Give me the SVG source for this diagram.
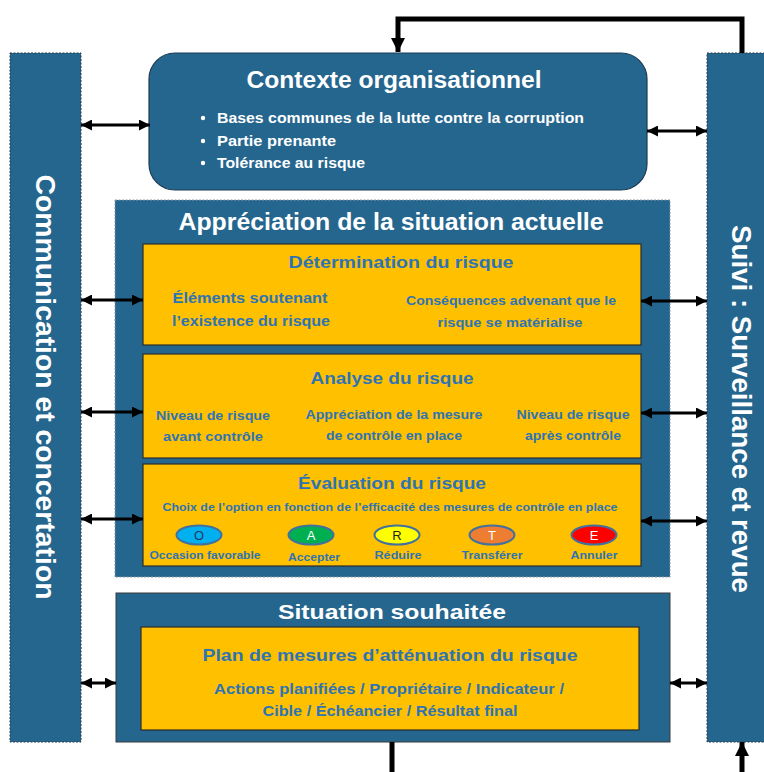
<svg xmlns="http://www.w3.org/2000/svg" width="764" height="772" viewBox="0 0 764 772">
<defs>
<marker id="ah" viewBox="0 0 10 10" markerUnits="userSpaceOnUse" markerWidth="11" markerHeight="11" refX="10" refY="5" orient="auto-start-reverse"><path d="M0,0 L10,5 L0,10 z" fill="#000"/></marker>
<marker id="ahb" viewBox="0 0 10 10" markerUnits="userSpaceOnUse" markerWidth="14" markerHeight="14" refX="10" refY="5" orient="auto-start-reverse"><path d="M0,0 L10,5 L0,10 z" fill="#000"/></marker>
<style>
.blue{fill:#25668F}
.bar{fill:#25668F;stroke:#2a3a48;stroke-width:1;stroke-dasharray:2 1.5}
.yel{fill:#FFC000;stroke:#2b2b2b;stroke-width:1.2}
text{font-family:"Liberation Sans",Arial,sans-serif;font-weight:bold}
.w{fill:#fff}
.b{fill:#2E74B5}
.c{text-anchor:middle}
.dbl{stroke:#000;stroke-width:3;fill:none;marker-start:url(#ah);marker-end:url(#ah)}
.loop{stroke:#000;stroke-width:5;fill:none}
.ov{stroke:#41719C;stroke-width:2}
.n{font-weight:normal}
</style>
</defs>
<rect width="764" height="772" fill="#fff"/>

<g id="communication">
<rect class="bar" x="10" y="53" width="71" height="689"/>
<text class="w c" font-size="28" dominant-baseline="central" textLength="425" lengthAdjust="spacingAndGlyphs" transform="translate(45,387) rotate(90)">Communication et concertation</text>
</g>

<g id="suivi">
<rect class="bar" x="707" y="53" width="60" height="689"/>
<text class="w c" font-size="27" dominant-baseline="central" textLength="368" lengthAdjust="spacingAndGlyphs" transform="translate(741,409) rotate(90)">Suivi : Surveillance et revue</text>
</g>

<g id="contexte">
<rect x="149" y="53" width="498" height="137" rx="26" class="blue" stroke="#1d3b52" stroke-width="1.2"/>
<text class="w c" x="394" y="88" font-size="23" textLength="295" lengthAdjust="spacingAndGlyphs">Contexte organisationnel</text>
<g font-size="14.5">
<circle cx="203" cy="118" r="2.2" fill="#fff"/>
<circle cx="203" cy="141" r="2.2" fill="#fff"/>
<circle cx="203" cy="163" r="2.2" fill="#fff"/>
<text class="w" x="217" y="123" textLength="367" lengthAdjust="spacingAndGlyphs">Bases communes de la lutte contre la corruption</text>
<text class="w" x="217" y="146" textLength="119" lengthAdjust="spacingAndGlyphs">Partie prenante</text>
<text class="w" x="217" y="168" textLength="148" lengthAdjust="spacingAndGlyphs">Tolérance au risque</text>
</g>
</g>

<g id="appreciation">
<rect x="115" y="200" width="555" height="377" class="blue" stroke="#8a98a4" stroke-width="1" stroke-dasharray="2 1.5"/>
<text class="w c" x="391" y="230" font-size="23" textLength="425" lengthAdjust="spacingAndGlyphs">Appréciation de la situation actuelle</text>
</g>

<g id="determination">
<rect class="yel" x="143" y="244" width="498" height="101"/>
<text class="b c" x="401" y="268" font-size="17" textLength="225" lengthAdjust="spacingAndGlyphs">Détermination du risque</text>
<text class="b c" x="250" y="303" font-size="14.5" textLength="155" lengthAdjust="spacingAndGlyphs">Éléments soutenant</text>
<text class="b c" x="251" y="326" font-size="14.5" textLength="158" lengthAdjust="spacingAndGlyphs">l’existence du risque</text>
<text class="b c" x="511" y="305" font-size="13" textLength="210" lengthAdjust="spacingAndGlyphs">Conséquences advenant que le</text>
<text class="b c" x="510" y="327" font-size="13" textLength="145" lengthAdjust="spacingAndGlyphs">risque se matérialise</text>
</g>

<g id="analyse">
<rect class="yel" x="143" y="354" width="498" height="104"/>
<text class="b c" x="392" y="384" font-size="17" textLength="163" lengthAdjust="spacingAndGlyphs">Analyse du risque</text>
<text class="b c" x="213" y="420" font-size="13" textLength="114" lengthAdjust="spacingAndGlyphs">Niveau de risque</text>
<text class="b c" x="213" y="441" font-size="13" textLength="100" lengthAdjust="spacingAndGlyphs">avant contrôle</text>
<text class="b c" x="394" y="419" font-size="13" textLength="177" lengthAdjust="spacingAndGlyphs">Appréciation de la mesure</text>
<text class="b c" x="394" y="440" font-size="13" textLength="136" lengthAdjust="spacingAndGlyphs">de contrôle en place</text>
<text class="b c" x="573" y="419" font-size="13" textLength="113" lengthAdjust="spacingAndGlyphs">Niveau de risque</text>
<text class="b c" x="573" y="440" font-size="13" textLength="96" lengthAdjust="spacingAndGlyphs">après contrôle</text>
</g>

<g id="evaluation">
<rect class="yel" x="143" y="464" width="498" height="102"/>
<text class="b c" x="392" y="489" font-size="17" textLength="188" lengthAdjust="spacingAndGlyphs">Évaluation du risque</text>
<text class="b c" x="390" y="511" font-size="11.5" textLength="455" lengthAdjust="spacingAndGlyphs">Choix de l’option en fonction de l’efficacité des mesures de contrôle en place</text>
<ellipse class="ov" cx="199" cy="535" rx="22.5" ry="9.5" fill="#00B0F0"/>
<ellipse class="ov" cx="311" cy="535" rx="22.5" ry="9.5" fill="#00B050"/>
<ellipse class="ov" cx="397" cy="535" rx="22.5" ry="9.5" fill="#FFFF00"/>
<ellipse class="ov" cx="492" cy="535" rx="22.5" ry="9.5" fill="#ED7D31"/>
<ellipse class="ov" cx="594" cy="535" rx="22.5" ry="9.5" fill="#FF0000"/>
<text class="c n" x="199" y="540" font-size="13" fill="#1F3864">O</text>
<text class="c n" x="311" y="540" font-size="13" fill="#fff">A</text>
<text class="c n" x="397" y="540" font-size="13" fill="#222">R</text>
<text class="c n" x="492" y="540" font-size="13" fill="#fff">T</text>
<text class="c n" x="594" y="540" font-size="13" fill="#fff">E</text>
<text class="b c" x="205" y="559" font-size="11.5" textLength="111" lengthAdjust="spacingAndGlyphs">Occasion favorable</text>
<text class="b c" x="314" y="561" font-size="11.5" textLength="52" lengthAdjust="spacingAndGlyphs">Accepter</text>
<text class="b c" x="398" y="559" font-size="11.5" textLength="47" lengthAdjust="spacingAndGlyphs">Réduire</text>
<text class="b c" x="492" y="559" font-size="11.5" textLength="61" lengthAdjust="spacingAndGlyphs">Transférer</text>
<text class="b c" x="594" y="559" font-size="11.5" textLength="47" lengthAdjust="spacingAndGlyphs">Annuler</text>
</g>

<g id="situation">
<rect x="116" y="593" width="554" height="149" class="blue" stroke="#3a3a3a" stroke-width="1"/>
<text class="w c" x="392" y="619" font-size="21" textLength="228" lengthAdjust="spacingAndGlyphs">Situation souhaitée</text>
</g>

<g id="plan">
<rect class="yel" x="141" y="627" width="498" height="103"/>
<text class="b c" x="390" y="661" font-size="17" textLength="375" lengthAdjust="spacingAndGlyphs">Plan de mesures d’atténuation du risque</text>
<text class="b c" x="389" y="694" font-size="15" textLength="350" lengthAdjust="spacingAndGlyphs">Actions planifiées / Propriétaire / Indicateur /</text>
<text class="b c" x="390" y="716" font-size="15" textLength="255" lengthAdjust="spacingAndGlyphs">Cible / Échéancier / Résultat final</text>
</g>

<g id="connectors">
<polyline class="loop" points="398,52 398,19 742,19 742,53" marker-start="url(#ahb)"/>
<line class="loop" x1="392" y1="742" x2="392" y2="780"/>
<line class="loop" x1="742" y1="780" x2="742" y2="742" marker-end="url(#ahb)"/>
<line class="dbl" x1="81" y1="125" x2="150" y2="125"/>
<line class="dbl" x1="647" y1="131" x2="707" y2="131"/>
<line class="dbl" x1="81" y1="300" x2="143" y2="300"/>
<line class="dbl" x1="641" y1="301" x2="707" y2="301"/>
<line class="dbl" x1="81" y1="412" x2="143" y2="412"/>
<line class="dbl" x1="641" y1="413" x2="707" y2="413"/>
<line class="dbl" x1="81" y1="519" x2="143" y2="519"/>
<line class="dbl" x1="641" y1="521" x2="707" y2="521"/>
<line class="dbl" x1="81" y1="683" x2="116" y2="683"/>
<line class="dbl" x1="670" y1="683" x2="707" y2="683"/>
</g>
</svg>
